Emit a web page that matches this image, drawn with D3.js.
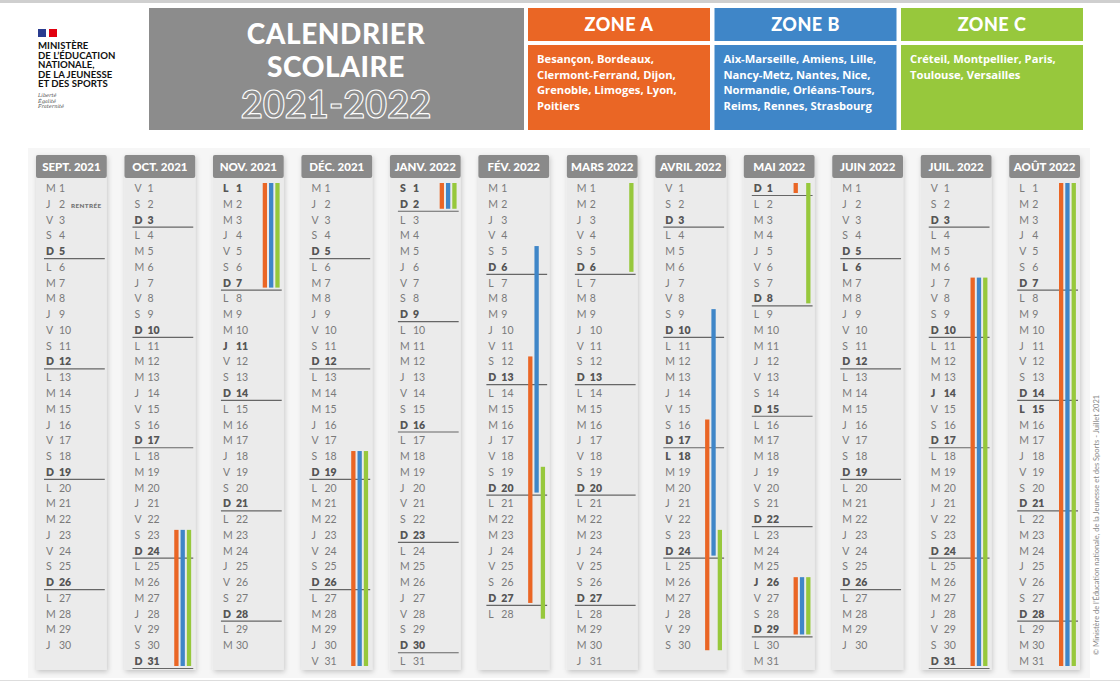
<!DOCTYPE html>
<html><head><meta charset="utf-8">
<script src="https://cdn.jsdelivr.net/npm/d3@7"></script>
<style>body{margin:0;background:#fff}svg{display:block;font-family:Lato,"Open Sans",sans-serif}</style>
</head><body><svg id="c" width="1120" height="686"></svg>
<script>
const months=["SEPT. 2021","OCT. 2021","NOV. 2021","DÉC. 2021","JANV. 2022","FÉV. 2022","MARS 2022","AVRIL 2022","MAI 2022","JUIN 2022","JUIL. 2022","AOÛT 2022"];
const monthLengths=[30,31,30,31,31,28,31,30,31,30,31,31];
const firstWeekday=[2,4,0,2,5,1,1,4,6,2,4,0]; // 0 = lundi
const dayLetters=["L","M","M","J","V","S","D"];
const holidays=[[2,1],[2,11],[4,1],[7,18],[8,1],[8,26],[9,6],[10,14],[11,15]];
const zones=["A","B","C"];
const zoneColors=["#ea6625","#3f86c8","#97c83c"];
const zoneNames=["ZONE A","ZONE B","ZONE C"];
const zoneCities=[["Besançon, Bordeaux,","Clermont-Ferrand, Dijon,","Grenoble, Limoges, Lyon,","Poitiers"],["Aix-Marseille, Amiens, Lille,","Nancy-Metz, Nantes, Nice,","Normandie, Orléans-Tours,","Reims, Rennes, Strasbourg"],["Créteil, Montpellier, Paris,","Toulouse, Versailles"]];
// [month index, zone, first day, last day]
const vacations=[
 [1,0,23,31],[1,1,23,31],[1,2,23,31],[2,0,1,7],[2,1,1,7],[2,2,1,7],
 [3,0,18,31],[3,1,18,31],[3,2,18,31],[4,0,1,2],[4,1,1,2],[4,2,1,2],
 [5,0,12,27],[5,1,5,20],[5,2,19,28],[6,2,1,6],
 [7,0,16,30],[7,1,9,24],[7,2,23,30],[8,0,1,1],[8,2,1,8],
 [8,0,26,29],[8,1,26,29],[8,2,26,29],
 [10,0,7,31],[10,1,7,31],[10,2,7,31],[11,0,1,31],[11,1,1,31],[11,2,1,31]];

const svg=d3.select("#c");
const x=d3.scaleBand().domain(d3.range(12)).range([36,1080]).paddingInner(0.2).paddingOuter(0);
const y=d3.scaleLinear().domain([1,31]).range([188,661]);
const bw=x.bandwidth();

svg.append("rect").attr("x",0).attr("y",0).attr("width",1120).attr("height",3).attr("fill","#cfcfcf");
svg.append("rect").attr("x",28).attr("y",148).attr("width",1062).attr("height",530).attr("fill","#f6f6f6");
svg.append("rect").attr("x",0).attr("y",680).attr("width",1120).attr("height",1).attr("fill","#ddd");

// logo
const lg=svg.append("g");
lg.append("rect").attr("x",38).attr("y",29).attr("width",8).attr("height",8).attr("fill","#2a3c8f");
lg.append("rect").attr("x",46).attr("y",29).attr("width",3).attr("height",8).attr("fill","#fff");
lg.append("rect").attr("x",49).attr("y",29).attr("width",8).attr("height",8).attr("fill","#e1000f");
["MINISTÈRE","DE L’ÉDUCATION","NATIONALE,","DE LA JEUNESSE","ET DES SPORTS"].forEach((t,i)=>lg.append("text").attr("x",38).attr("y",49+i*9.5).attr("font-size",9.6).attr("font-weight",700).attr("fill","#111").text(t));
["Liberté","Égalité","Fraternité"].forEach((t,i)=>lg.append("text").attr("x",38).attr("y",97+i*5.5).attr("font-size",5).attr("font-style","italic").attr("fill","#444").attr("font-family","DejaVu Serif").text(t));

// title
svg.append("rect").attr("x",149).attr("y",8).attr("width",375).attr("height",122).attr("fill","#8c8c8c");
svg.append("text").attr("x",336).attr("y",44).attr("text-anchor","middle").attr("font-size",28).attr("font-weight",900).attr("fill","#fff").attr("letter-spacing",0.6).text("CALENDRIER");
svg.append("text").attr("x",336).attr("y",77).attr("text-anchor","middle").attr("font-size",28).attr("font-weight",900).attr("fill","#fff").attr("letter-spacing",0.6).text("SCOLAIRE");
svg.append("text").attr("x",336).attr("y",118).attr("text-anchor","middle").attr("font-size",38).attr("font-weight",700).attr("fill","none").attr("stroke","#fff").attr("stroke-width",1.1).text("2021-2022");

// zones
zones.forEach((z,i)=>{
 const x0=528+i*186.5,w=182;
 svg.append("rect").attr("x",x0).attr("y",8).attr("width",w).attr("height",33).attr("fill",zoneColors[i]);
 svg.append("rect").attr("x",x0).attr("y",45).attr("width",w).attr("height",85).attr("fill",zoneColors[i]);
 svg.append("text").attr("x",x0+w/2).attr("y",31).attr("text-anchor","middle").attr("font-size",18).attr("font-weight",900).attr("fill","#fff").attr("letter-spacing",0.5).text(zoneNames[i]);
 zoneCities[i].forEach((t,k)=>svg.append("text").attr("x",x0+9).attr("y",63+k*15.7).attr("font-size",11.2).attr("font-weight",700).attr("font-family","Open Sans").attr("fill","#fff").text(t));
});

const defs=svg.append("defs");
const f=defs.append("filter").attr("id","sh").attr("x","-20%").attr("y","-5%").attr("width","140%").attr("height","110%");
f.append("feDropShadow").attr("dx",1).attr("dy",2).attr("stdDeviation",2.5).attr("flood-color","#000").attr("flood-opacity",0.2);

const isBold=(m,d)=>((firstWeekday[m]+d-1)%7===6)||holidays.some(h=>h[0]===m&&h[1]===d);
months.forEach((name,m)=>{
 const g=svg.append("g").attr("transform",`translate(${x(m)},0)`);
 g.append("rect").attr("x",0).attr("y",155).attr("width",bw).attr("height",515).attr("fill","#ebebeb").attr("filter","url(#sh)");
 g.append("rect").attr("x",0).attr("y",155).attr("width",bw).attr("height",23).attr("fill","#8a8a8a").attr("rx",2);
 g.append("text").attr("x",bw/2).attr("y",171).attr("text-anchor","middle").attr("font-size",11.5).attr("font-weight",900).attr("fill","#fff").text(name);
 d3.range(1,monthLengths[m]+1).forEach(d=>{
  const wd=(firstWeekday[m]+d-1)%7, b=isBold(m,d), yy=y(d)+4;
  g.append("text").attr("x",10).attr("y",yy).attr("font-size",10.5).attr("font-weight",b?800:400).attr("fill",b?"#555":"#7a7a7a").text(dayLetters[wd]);
  g.append("text").attr("x",23).attr("y",yy).attr("font-size",10.5).attr("font-weight",b?800:400).attr("fill",b?"#555":"#7a7a7a").text(d);
  if(wd===6) g.append("line").attr("x1",8).attr("x2",bw-2).attr("y1",y(d)+7.5).attr("y2",y(d)+7.5).attr("stroke","#666").attr("stroke-width",1.2);
 });
 if(m===0) g.append("text").attr("x",35).attr("y",y(2)+4).attr("font-size",6.3).attr("font-weight",800).attr("fill","#777").attr("letter-spacing",0.4).text("RENTRÉE");
});

vacations.forEach(([m,z,s,e])=>{
 svg.append("rect").attr("x",x(m)+bw-21+z*6.3).attr("y",y(s)-5).attr("width",4.3).attr("height",y(e)-y(s)+10).attr("fill",zoneColors[z]);
});

svg.append("text").attr("transform","translate(1099,525) rotate(-90)").attr("text-anchor","middle").attr("font-size",7.5).attr("fill","#888").text("© Ministère de l’Éducation nationale, de la Jeunesse et des Sports - Juillet 2021");
</script></body></html>
